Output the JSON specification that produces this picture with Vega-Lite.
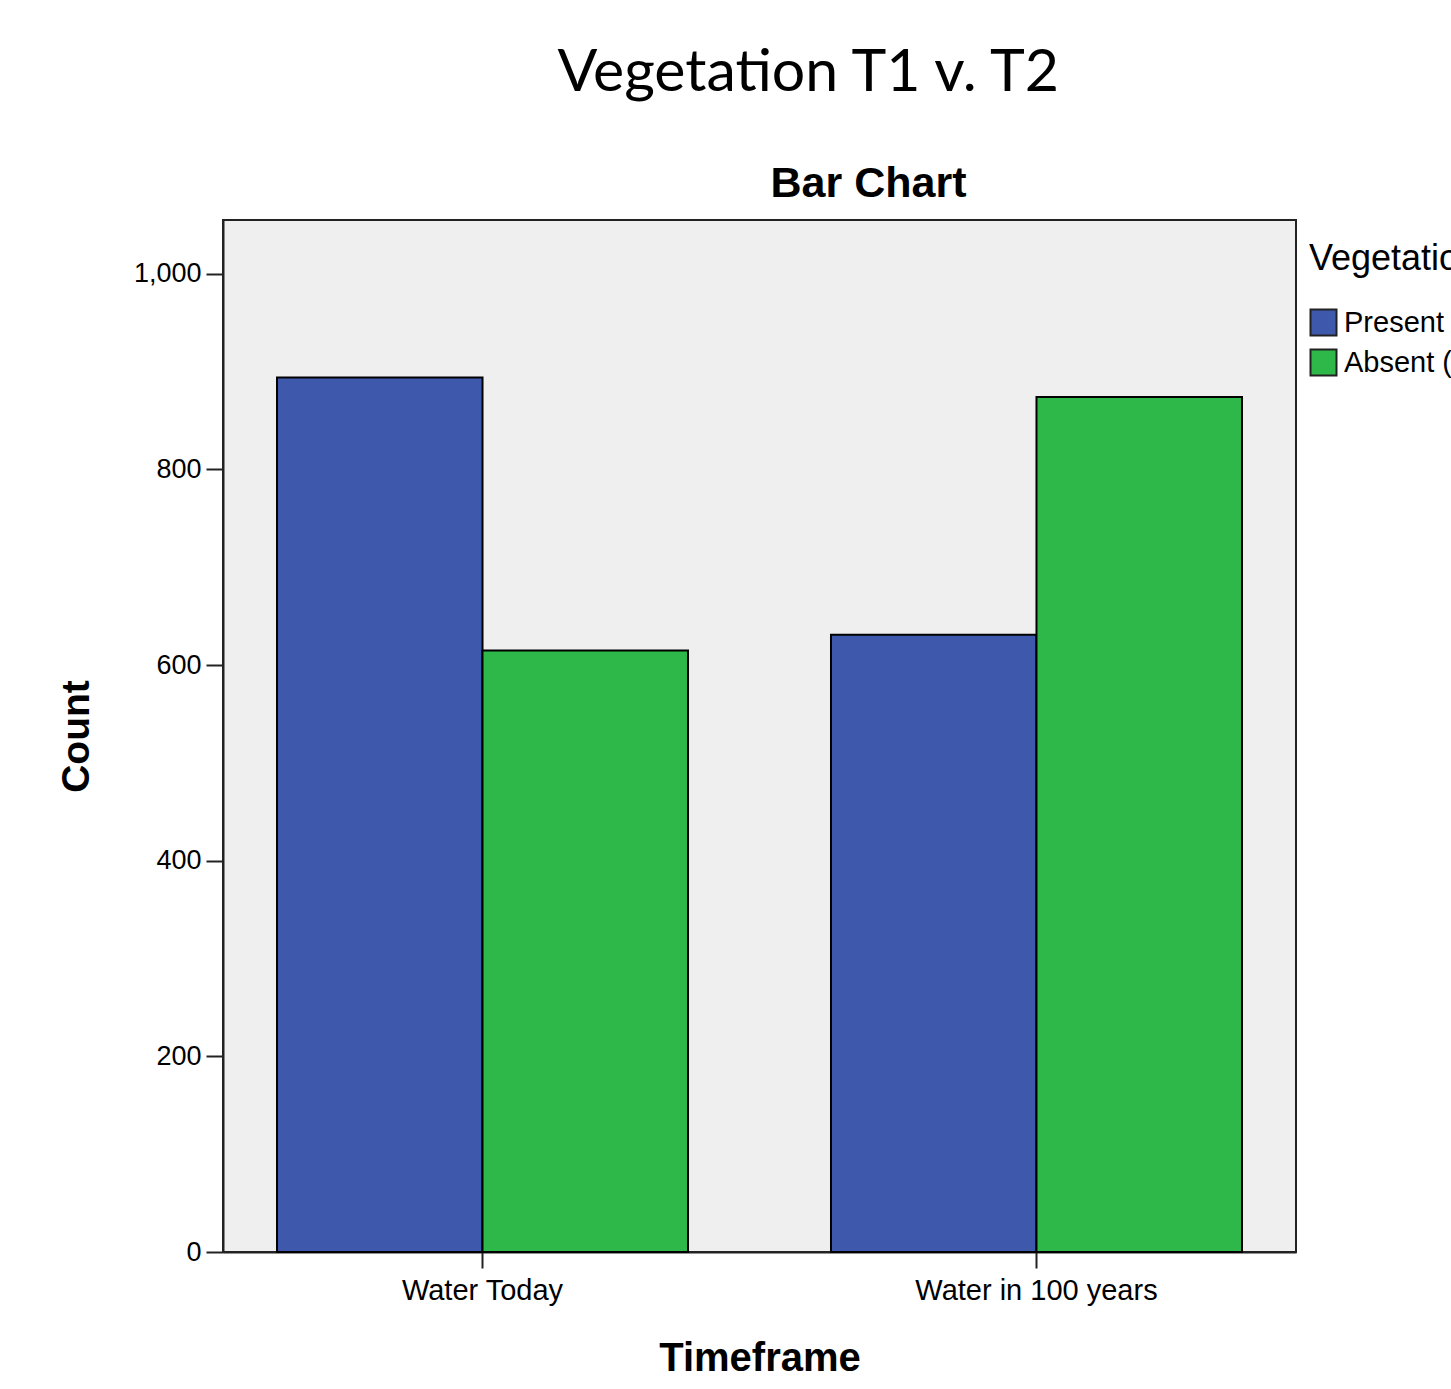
{
  "$schema": "https://vega.github.io/schema/vega-lite/v6.json",
  "padding": {"left": 56, "top": 44, "right": 0, "bottom": 10},
  "background": "white",
  "title": {
    "text": "Vegetation T1 v. T2",
    "font": "Lato",
    "fontSize": 59,
    "fontWeight": "normal",
    "color": "black",
    "anchor": "middle",
    "dx": 29,
    "offset": 59
  },
  "data": {
    "values": [
      {"Timeframe": "Water Today", "Vegetation": "Present", "Count": 894},
      {"Timeframe": "Water Today", "Vegetation": "Absent (0)", "Count": 615},
      {"Timeframe": "Water in 100 years", "Vegetation": "Present", "Count": 631},
      {"Timeframe": "Water in 100 years", "Vegetation": "Absent (0)", "Count": 874}
    ]
  },
  "vconcat": [
    {
      "width": 1073,
      "height": 1032,
      "title": {
        "text": "Bar Chart",
        "font": "Liberation Sans",
        "fontSize": 43,
        "fontWeight": "bold",
        "color": "black",
        "anchor": "middle",
        "dx": 109,
        "offset": 14
      },
      "mark": {"type": "bar", "stroke": "black", "strokeWidth": 2},
      "encoding": {
        "x": {
          "field": "Timeframe",
          "type": "nominal",
          "sort": ["Water Today", "Water in 100 years"],
          "scale": {"paddingInner": 0.2581, "paddingOuter": 0.0975},
          "axis": {
            "labelAngle": 0,
            "labelLimit": 0,
            "labelFont": "Liberation Sans",
            "labelFontSize": 29,
            "labelColor": "black",
            "labelPadding": 8,
            "tickSize": 16,
            "tickWidth": 2,
            "tickColor": "#222",
            "domainColor": "#222",
            "domainWidth": 2,
            "title": "Timeframe",
            "titleFont": "Liberation Sans",
            "titleFontSize": 40,
            "titleFontWeight": "bold",
            "titleColor": "black",
            "titlePadding": 33
          }
        },
        "xOffset": {
          "field": "Vegetation",
          "type": "nominal",
          "sort": ["Present", "Absent (0)"],
          "scale": {"paddingInner": 0, "paddingOuter": 0}
        },
        "y": {
          "field": "Count",
          "type": "quantitative",
          "scale": {"domain": [0, 1055], "nice": false},
          "axis": {
            "values": [0, 200, 400, 600, 800, 1000],
            "format": ",.0f",
            "grid": false,
            "labelFont": "Liberation Sans",
            "labelFontSize": 27,
            "labelColor": "black",
            "labelPadding": 5,
            "tickSize": 17,
            "tickWidth": 2,
            "tickColor": "#222",
            "domainColor": "#222",
            "domainWidth": 2,
            "title": "Count",
            "titleFont": "Liberation Sans",
            "titleFontSize": 39,
            "titleFontWeight": "bold",
            "titleColor": "black",
            "titlePadding": 37
          }
        },
        "color": {
          "field": "Vegetation",
          "type": "nominal",
          "sort": ["Present", "Absent (0)"],
          "scale": {"domain": ["Present", "Absent (0)"], "range": ["#3e58ac", "#2fb84a"]},
          "legend": {
            "title": "Vegetation",
            "titleFont": "Liberation Sans",
            "titleFontSize": 36,
            "titleFontWeight": "normal",
            "titleColor": "black",
            "titlePadding": 30,
            "labelFont": "Liberation Sans",
            "labelFontSize": 29,
            "labelColor": "black",
            "labelOffset": 6,
            "symbolType": "square",
            "symbolSize": 676,
            "symbolStrokeColor": "#222",
            "symbolStrokeWidth": 2,
            "symbolOpacity": 1,
            "rowPadding": 5,
            "offset": -10,
            "padding": 22
          }
        }
      }
    }
  ],
  "config": {
    "view": {"fill": "#efefef", "stroke": "#222", "strokeWidth": 2},
    "concat": {"spacing": 0}
  }
}
